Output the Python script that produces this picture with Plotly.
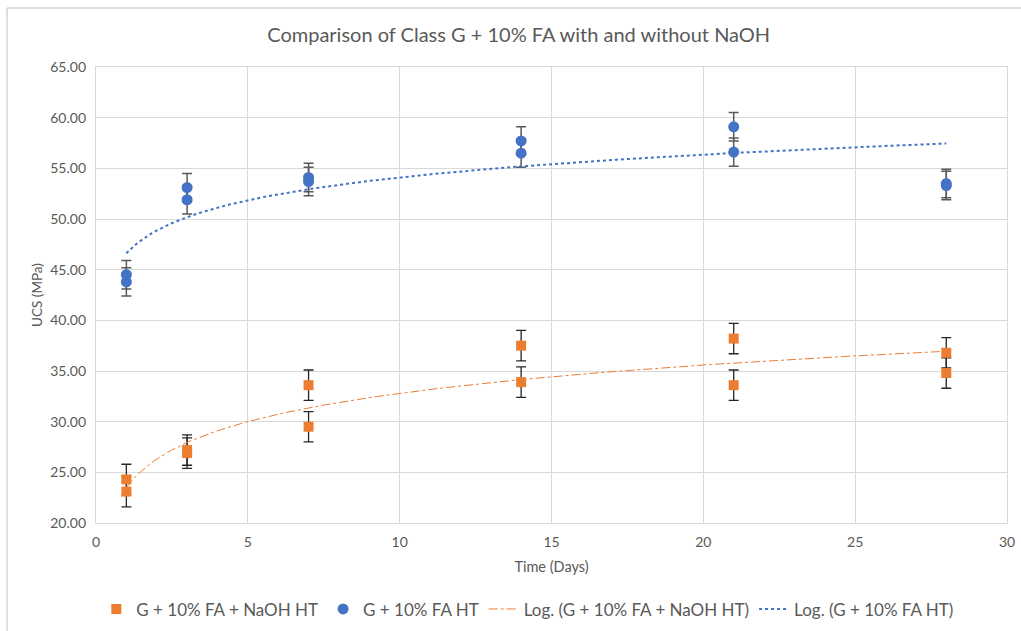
import numpy as np
import plotly.graph_objects as go

# Curing age of each specimen (days)
days = [1, 1, 3, 3, 7, 7, 14, 14, 21, 21, 28, 28]

# UCS results (MPa) and standard deviations
naoh_ucs = [24.3, 23.1, 27.2, 26.9, 33.6, 29.5, 37.5, 33.9, 38.2, 33.6, 36.8, 34.8]
naoh_err = [1.5, 1.5, 1.5, 1.5, 1.5, 1.5, 1.5, 1.5, 1.5, 1.5, 1.5, 1.5]
ht_ucs = [44.5, 43.8, 53.1, 51.9, 54.1, 53.7, 57.7, 56.5, 59.1, 56.6, 53.5, 53.3]
ht_err = [1.4, 1.4, 1.4, 1.4, 1.4, 1.4, 1.4, 1.4, 1.4, 1.4, 1.4, 1.4]

x_ticks = [0, 5, 10, 15, 20, 25, 30]
y_ticks = [20, 25, 30, 35, 40, 45, 50, 55, 60, 65]

ORANGE = "#ED7D31"
BLUE = "#4472C4"
TEXT = "#595959"
GRID = "#d9d9d9"
FONT = "Lato, Liberation Sans, sans-serif"


def log_fit(x, y):
    """Least-squares fit y = a*ln(x) + b, evaluated across the data span."""
    a, b = np.polyfit(np.log(x), y, 1)
    xs = np.linspace(min(x), max(x), 200)
    return xs, a * np.log(xs) + b


fig = go.Figure()

fig.add_trace(go.Scatter(
    x=days, y=naoh_ucs, mode="markers", name="G + 10% FA + NaOH HT",
    marker=dict(symbol="square", size=10, color=ORANGE),
    error_y=dict(type="data", array=naoh_err, visible=True,
                 color="#262626", thickness=1.3, width=5),
))
fig.add_trace(go.Scatter(
    x=days, y=ht_ucs, mode="markers", name="G + 10% FA HT",
    marker=dict(symbol="circle", size=11, color=BLUE),
    error_y=dict(type="data", array=ht_err, visible=True,
                 color="#595959", thickness=1.5, width=5),
))

xs, ys = log_fit(days, naoh_ucs)
fig.add_trace(go.Scatter(
    x=xs, y=ys, mode="lines", name="Log. (G + 10% FA + NaOH HT)",
    line=dict(color=ORANGE, width=1, dash="dashdot"), hoverinfo="skip",
))
xs, ys = log_fit(days, ht_ucs)
fig.add_trace(go.Scatter(
    x=xs, y=ys, mode="lines", name="Log. (G + 10% FA HT)",
    line=dict(color=BLUE, width=2, dash="dot"), hoverinfo="skip",
))

fig.update_layout(
    width=1021, height=631,
    margin=dict(l=96, r=14, t=67, b=108, autoexpand=False),
    paper_bgcolor="white", plot_bgcolor="white",
    font=dict(family=FONT, color=TEXT, size=13),
    title=dict(text="Comparison of Class G + 10% FA with and without NaOH",
               x=0.508, xanchor="center", y=0.944, yanchor="middle",
               font=dict(size=20, color=TEXT)),
    legend=dict(orientation="h", x=0.474, xanchor="center", y=-0.15,
                yanchor="top", font=dict(size=17, color=TEXT),
                itemwidth=30, tracegroupgap=0),
    showlegend=True,
)
fig.update_xaxes(
    range=[0, 30], tickvals=x_ticks, ticktext=[str(v) for v in x_ticks],
    automargin=False,
    showgrid=True, gridcolor=GRID, gridwidth=1.3,
    showline=True, linecolor=GRID, linewidth=1.3, mirror=True,
    zeroline=False, ticks="outside", ticklen=6, tickcolor="rgba(0,0,0,0)",
    tickfont=dict(size=14, color=TEXT),
    title=dict(text="Time (Days)", font=dict(size=14.5, color=TEXT), standoff=12),
)
fig.update_yaxes(
    range=[20, 65], tickvals=y_ticks, ticktext=[f"{v:.2f}" for v in y_ticks],
    automargin=False,
    showgrid=True, gridcolor=GRID, gridwidth=1.3,
    showline=True, linecolor=GRID, linewidth=1.3, mirror=True,
    zeroline=False, ticks="outside", ticklen=6, tickcolor="rgba(0,0,0,0)",
    tickfont=dict(size=14, color=TEXT),
    title=dict(text="UCS (MPa)", font=dict(size=13.5, color=TEXT), standoff=4),
)

# Outer chart-area border
fig.add_shape(type="rect", xref="paper", yref="paper",
              x0=(7 - 96) / 911, x1=(1040 - 96) / 911,
              y0=(523 - 660) / 456, y1=(523 - 8) / 456,
              line=dict(color="#bfbfbf", width=1), layer="below")

fig.write_html("out.html")
